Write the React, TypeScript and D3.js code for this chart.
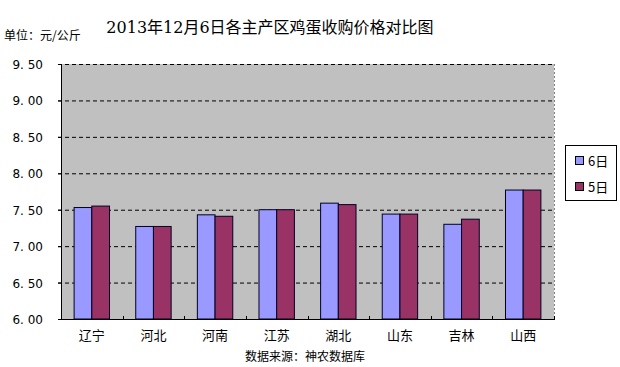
import React, { useEffect, useRef } from 'react';
import * as d3 from 'd3';

const categories = ['辽宁', '河北', '河南', '江苏', '湖北', '山东', '吉林', '山西'];
const seriesNames = ['6日', '5日'];
const values6 = [7.53, 7.27, 7.43, 7.50, 7.59, 7.44, 7.30, 7.77];
const values5 = [7.55, 7.27, 7.41, 7.50, 7.57, 7.44, 7.37, 7.77];
const yTicks = [6.0, 6.5, 7.0, 7.5, 8.0, 8.5, 9.0, 9.5];

const colors = ['#9999FF', '#993366'];
const cjk = '"Noto Sans CJK SC", "Noto Sans", sans-serif';

const App = () => {
    const svgRef = useRef(null);

    useEffect(() => {
        const svg = d3.select(svgRef.current);
        svg.selectAll('*').remove();

        const left = 61, right = 554, top = 64, bottom = 319;

        const x = d3.scaleBand().domain(categories).range([left, right]);
        const x1 = d3.scaleBand().domain(seriesNames).range([0, 35.4]);
        const y = d3.scaleLinear().domain([6, 9.5]).range([bottom, top]);

        svg.append('rect').attr('width', 620).attr('height', 367).attr('fill', '#fff');

        // plot background
        svg.append('rect')
            .attr('x', left).attr('y', top)
            .attr('width', right - left).attr('height', bottom - top)
            .attr('fill', '#C0C0C0');

        // grid lines
        svg.append('g').selectAll('line')
            .data(yTicks.slice(1))
            .enter().append('line')
            .attr('x1', left - 3).attr('x2', right)
            .attr('y1', d => y(d) + 0.5).attr('y2', d => y(d) + 0.5)
            .attr('stroke', '#000').attr('stroke-dasharray', '4,3');

        // right border dotted
        svg.append('line')
            .attr('x1', right + 0.5).attr('x2', right + 0.5)
            .attr('y1', top).attr('y2', bottom)
            .attr('stroke', '#808080').attr('stroke-dasharray', '2,2');

        // bars
        const data = categories.map((c, i) => ({ c, vals: [values6[i], values5[i]] }));
        const groups = svg.append('g').selectAll('g')
            .data(data).enter().append('g')
            .attr('transform', d => `translate(${x(d.c) + (x.bandwidth() - 35.4) / 2},0)`);
        groups.selectAll('rect')
            .data(d => d.vals.map((v, j) => ({ v, s: seriesNames[j], j })))
            .enter().append('rect')
            .attr('x', d => x1(d.s))
            .attr('y', d => y(d.v))
            .attr('width', x1.bandwidth())
            .attr('height', d => bottom - y(d.v))
            .attr('fill', d => colors[d.j])
            .attr('stroke', '#000022').attr('stroke-width', 1);

        // axes lines
        svg.append('line')
            .attr('x1', left + 0.5).attr('x2', left + 0.5)
            .attr('y1', top).attr('y2', bottom)
            .attr('stroke', '#000');
        svg.append('line')
            .attr('x1', left).attr('x2', right + 1)
            .attr('y1', bottom + 0.5).attr('y2', bottom + 0.5)
            .attr('stroke', '#000');

        // y ticks
        svg.append('g').selectAll('line')
            .data(yTicks).enter().append('line')
            .attr('x1', left - 3).attr('x2', left)
            .attr('y1', d => y(d) + 0.5).attr('y2', d => y(d) + 0.5)
            .attr('stroke', '#000');
        svg.append('g').selectAll('text')
            .data(yTicks).enter().append('text')
            .attr('x', 43).attr('y', d => y(d) + 5)
            .attr('text-anchor', 'end')
            .attr('font-family', '"DejaVu Sans", sans-serif')
            .attr('font-size', 12)
            .attr('fill', '#000')
            .text(d => d3.format('.2f')(d).replace('.', '. '));

        // x ticks
        const bounds = categories.map(c => x(c)).concat([right]);
        svg.append('g').selectAll('line')
            .data(bounds).enter().append('line')
            .attr('x1', d => Math.round(d) + 0.5).attr('x2', d => Math.round(d) + 0.5)
            .attr('y1', bottom - 3).attr('y2', bottom)
            .attr('stroke', '#000');
        svg.append('g').selectAll('text')
            .data(categories).enter().append('text')
            .attr('x', d => x(d) + x.bandwidth() / 2)
            .attr('y', 340)
            .attr('text-anchor', 'middle')
            .attr('font-family', cjk)
            .attr('font-size', 13)
            .text(d => d);

        // title and notes
        svg.append('text')
            .attr('x', 270).attr('y', 33)
            .attr('text-anchor', 'middle')
            .attr('font-family', '"DejaVu Serif", "Noto Sans CJK SC", serif')
            .attr('font-size', 16)
            .text('2013年12月6日各主产区鸡蛋收购价格对比图');
        svg.append('text')
            .attr('x', 4).attr('y', 40)
            .attr('font-family', cjk)
            .attr('font-size', 12)
            .text('单位：元/公斤');
        svg.append('text')
            .attr('x', 305).attr('y', 361)
            .attr('text-anchor', 'middle')
            .attr('font-family', cjk)
            .attr('font-size', 12)
            .text('数据来源：神农数据库');

        // legend
        const lg = svg.append('g');
        lg.append('rect')
            .attr('x', 565.5).attr('y', 145.5)
            .attr('width', 51).attr('height', 55)
            .attr('fill', '#fff').attr('stroke', '#000');
        seriesNames.forEach((s, i) => {
            const cy = 161 + i * 26;
            lg.append('rect')
                .attr('x', 575.5).attr('y', cy - 4.5)
                .attr('width', 8).attr('height', 8)
                .attr('fill', colors[i]).attr('stroke', '#000');
            lg.append('text')
                .attr('x', 588).attr('y', cy + 5)
                .attr('font-family', cjk)
                .attr('font-size', 13)
                .text(s);
        });
    }, []);

    return (
        <svg ref={svgRef} width={620} height={367} style={{ position: 'absolute', left: 0, top: 0 }}></svg>
    );
};

export default App;
